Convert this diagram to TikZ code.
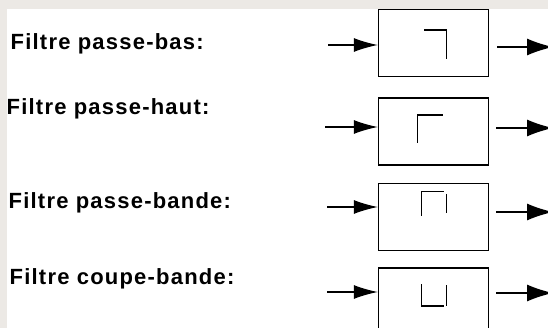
\documentclass[tikz,border=0pt]{standalone}
\usepackage{fontspec}
\setmainfont{Liberation Sans}[LetterSpace=5.5]
\usepackage{tikz}
\usetikzlibrary{arrows.meta,positioning}
\definecolor{frame}{RGB}{236, 233, 229}
\tikzstyle{filter} = [rectangle, draw=black, line width=1.4pt, minimum width=110pt, minimum height=67pt, inner sep=0pt]
\tikzstyle{ftext} = [anchor=base west, inner sep=0pt, text=black, font=\bfseries\fontsize{22}{26}\selectfont]
\tikzstyle{tedge} = [draw, line width=1.2pt, -{Latex[length=24pt,width=14pt]}]
\tikzstyle{tout} = [draw, line width=1.2pt, -{Latex[length=26pt,width=17pt]}]
\tikzstyle{gain} = [draw, line width=1.3pt]
\begin{document}
\begin{tikzpicture}[x=1pt, y=-1pt]

% background ==============================
\useasboundingbox (0,0) rectangle (548,328);
\fill[frame] (0,0) rectangle (548,328);
\fill[white] (7,9) rectangle (548,328);

% filters
\node[filter] (lp) at (433.5,43) {};
\node[filter, below=20pt of lp] (hp) {};
\node[filter, below=17.5pt of hp] (bp) {};
\node[filter, below=16pt of bp] (bs) {};

% names
\node[ftext] (tlp) at (10.5,49.5) {Filtre passe-bas:};
\node[ftext] (thp) at (6.5,114.5) {Filtre passe-haut:};
\node[ftext] (tbp) at (8.5,209) {Filtre passe-bande:};
\node[ftext] (tbs) at (9.5,284.5) {Filtre coupe-bande:};

% ends of the arrows
\coordinate (in1) at (328,45);
\coordinate (in2) at (325,127);
\coordinate (in3) at (327,207);
\coordinate (in4) at (327,292);
\coordinate (o1a) at (497,47);
\coordinate (o1b) at (553,47);
\coordinate (o2a) at (496,128);
\coordinate (o2b) at (553,128);
\coordinate (o3a) at (496,212);
\coordinate (o3b) at (553,212);
\coordinate (o4a) at (496,293);
\coordinate (o4b) at (553,293);

% responses
\draw[gain] (424,30) -| (446.7,59.3);
\draw[gain] (442.7,115) -| (417.7,143.3);
\draw[gain] (421.7,215.7) |- (444,191.7);
\draw[gain] (446.7,194) -- (446.7,213);
\draw[gain] (421.7,284) |- (444,306);
\draw[gain] (446.7,285) -- (446.7,306);

%edges
\path[tedge] (in1) -- (in1 -| lp.west);
\path[tedge] (in2) -- (in2 -| hp.west);
\path[tedge] (in3) -- (in3 -| bp.west);
\path[tedge] (in4) -- (in4 -| bs.west);
\path[tout] (o1a) -- (o1b);
\path[tout] (o2a) -- (o2b);
\path[tout] (o3a) -- (o3b);
\path[tout] (o4a) -- (o4b);

\end{tikzpicture}
\end{document}
